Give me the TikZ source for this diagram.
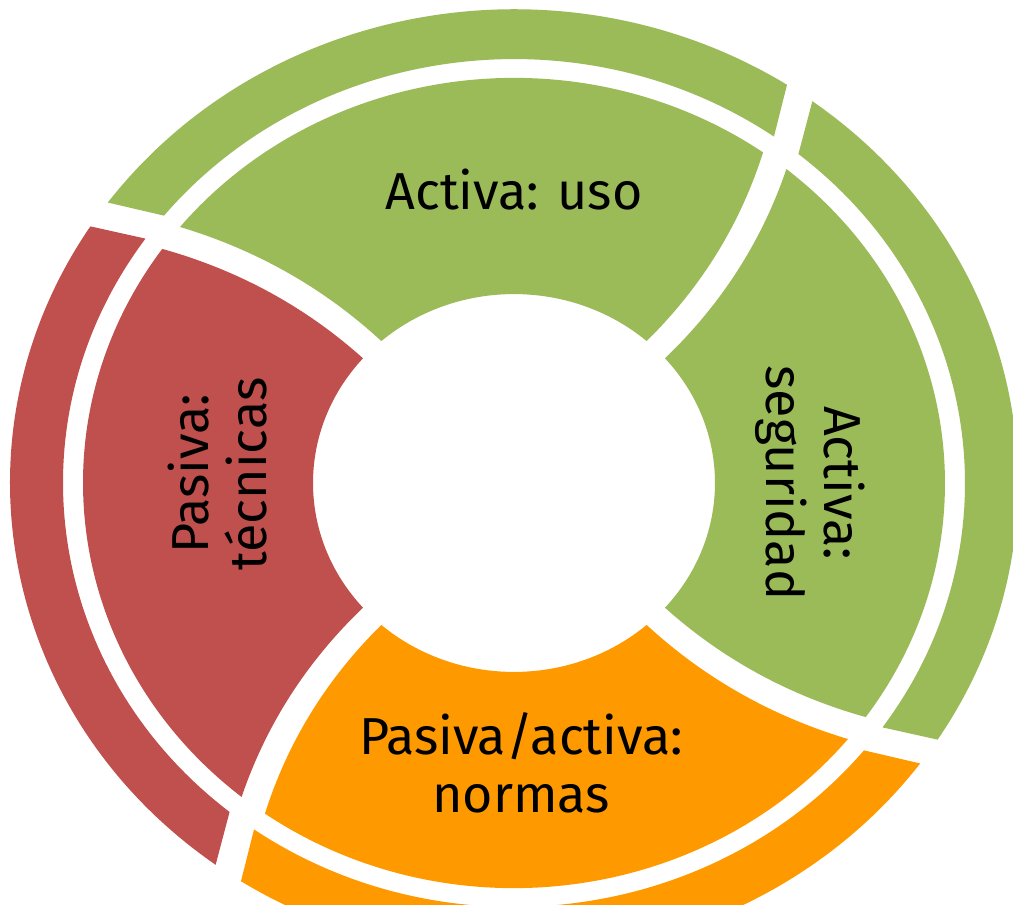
\documentclass[tikz,border=0pt]{standalone}
\usepackage{fontspec}
\usetikzlibrary{calc}
\setmainfont{Fira Sans}
\definecolor{cgreen}{HTML}{9BBB59}
\definecolor{cred}{HTML}{C0504D}
\definecolor{corange}{HTML}{FF9900}
\tikzset{
  seglabel/.style={font=\fontsize{26pt}{29pt}\selectfont, text=black, align=center, inner sep=0pt}
}
\begin{document}
\begin{tikzpicture}
\useasboundingbox (-257pt,-211pt) rectangle (249.5pt,241.5pt);
\begin{scope}[yscale=0.94]
\foreach \t/\c in {90/cgreen, 0/cgreen, 270/corange, 180/cred} {
  % corners of the inner ring segment
  \coordinate (A) at ({\t-41.3}:100.5pt);
  \coordinate (B) at ({\t-35.3}:215.5pt);
  \coordinate (D) at ({\t+50.8}:215.5pt);
  \coordinate (E) at ({\t+41.3}:100.5pt);
  % control points: both side edges bow towards the clockwise side
  \coordinate (B1) at ($(A)!0.333!(B)$);
  \coordinate (B2) at ($(A)!0.667!(B)$);
  \coordinate (C1) at ($(B1)!9.3pt!-90:(B)$);
  \coordinate (C2) at ($(B2)!9.3pt!90:(A)$);
  \coordinate (D1) at ($(D)!0.333!(E)$);
  \coordinate (D2) at ($(D)!0.667!(E)$);
  \coordinate (F1) at ($(D1)!9.3pt!90:(E)$);
  \coordinate (F2) at ($(D2)!9.3pt!-90:(D)$);
  \fill[\c] (A) .. controls (C1) and (C2) .. (B)
     arc[start angle={\t-35.3}, end angle={\t+50.8}, radius=215.5pt]
     .. controls (F1) and (F2) .. (E)
     arc[start angle={\t+41.3}, end angle={\t-41.3}, radius=100.5pt] -- cycle;
  % outer ring segment
  \fill[\c] ({\t-32.8}:252pt) arc[start angle={\t-32.8}, end angle={\t+53.7}, radius=252pt]
     -- ({\t+50.9}:225.5pt) arc[start angle={\t+50.9}, end angle={\t-35.2}, radius=225.5pt] -- cycle;
}
\end{scope}
\node[seglabel, anchor=base] (uso) at (0pt,136.5pt) {Activa: uso};
\node[seglabel] (normas) at (3.5pt,-140pt) {Pasiva/activa:\\normas};
\node[seglabel, rotate=90] (tecnicas) at (-148pt,4.5pt) {Pasiva:\\técnicas};
\node[seglabel, rotate=-90] (seguridad) at (148pt,0pt) {Activa:\\seguridad};
\end{tikzpicture}
\end{document}
